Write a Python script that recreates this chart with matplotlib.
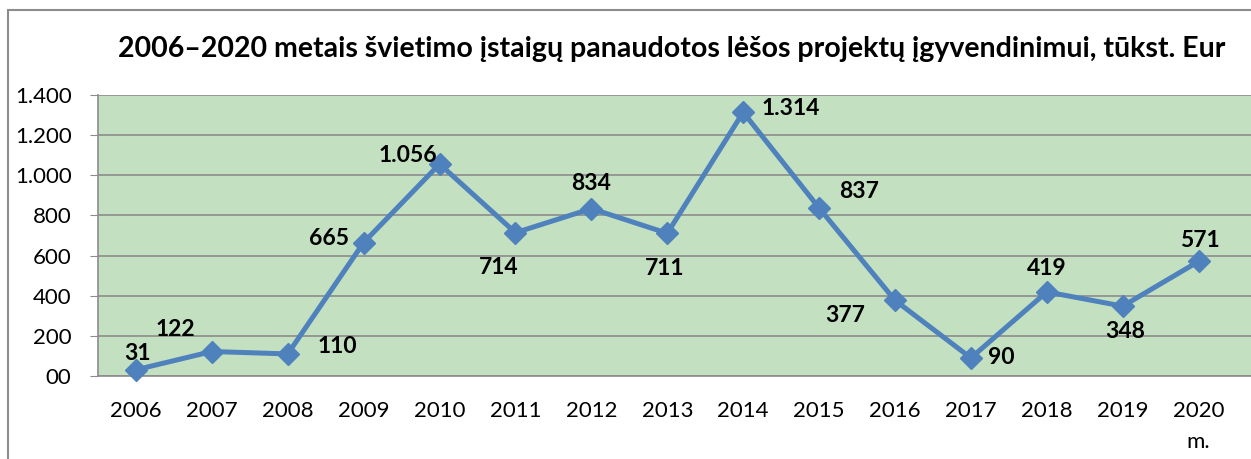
import matplotlib.pyplot as plt
from matplotlib.patches import Rectangle
from matplotlib.ticker import FuncFormatter

years = ['2006', '2007', '2008', '2009', '2010', '2011', '2012', '2013',
         '2014', '2015', '2016', '2017', '2018', '2019', '2020']
values = [31, 122, 110, 665, 1056, 714, 834, 711, 1314, 837, 377, 90, 419, 348, 571]
# label offsets in points (dx, dy) relative to each point
offsets = [(1, 12), (-26, 16), (36, 5), (-25, 3), (-23, 6), (-12, -25), (0, 18), (-2, -25),
           (34, 3), (29, 12), (-36, -11), (22, 0), (0, 17), (2, -18), (1, 15)]

plt.rcParams['font.family'] = ['Lato', 'DejaVu Sans']

fig = plt.figure(figsize=(12.51, 4.59), dpi=100)
ax = fig.add_axes([98 / 1251, 1 - 376 / 459, 1153 / 1251, 281 / 459])

x = list(range(len(years)))
ax.plot(x, values, color='#4F81BD', lw=3.6, marker='D', ms=11, zorder=3, clip_on=False)

for xi, v, (dx, dy) in zip(x, values, offsets):
    txt = f'{v:,}'.replace(',', '.')
    ax.annotate(txt, (xi, v), xytext=(dx, dy), textcoords='offset points',
                ha='center', va='center', fontsize=16.5, fontweight='bold', color='black')

ax.set_facecolor('#C3E0C0')
ax.set_xlim(-0.5, 14.69)
ax.set_ylim(0, 1400)
ax.set_yticks(range(0, 1401, 200))
ax.yaxis.set_major_formatter(FuncFormatter(lambda v, p: '00' if v == 0 else f'{int(v):,}'.replace(',', '.')))
ax.set_xticks(x)
ax.set_xticklabels(years)
ax.grid(axis='y', color='#8C8C8C', lw=1.2)
ax.set_axisbelow(True)
for s in ['top', 'right']:
    ax.spines[s].set_visible(False)
for s in ['left', 'bottom']:
    ax.spines[s].set_color('#8C8C8C')
    ax.spines[s].set_linewidth(1.2)
ax.tick_params(axis='y', length=6, color='#8C8C8C', labelsize=16, pad=13)
ax.tick_params(axis='x', length=0, labelsize=16, pad=18)

ax.text(14, -0.235, 'm.', transform=ax.get_xaxis_transform(), ha='center', va='center', fontsize=16)

fig.text(672 / 1251, 1 - 49 / 459,
         '2006–2020 metais švietimo įstaigų panaudotos lėšos projektų įgyvendinimui, tūkst. Eur',
         ha='center', va='center', fontsize=20.5, fontweight='bold')

fig.patches.append(Rectangle((8 / 1251, -0.1), 1.2, 1.1 - 10 / 459, transform=fig.transFigure,
                             fill=False, edgecolor='#8C8C8C', lw=1.5))

fig.savefig('out.png', dpi=100)
